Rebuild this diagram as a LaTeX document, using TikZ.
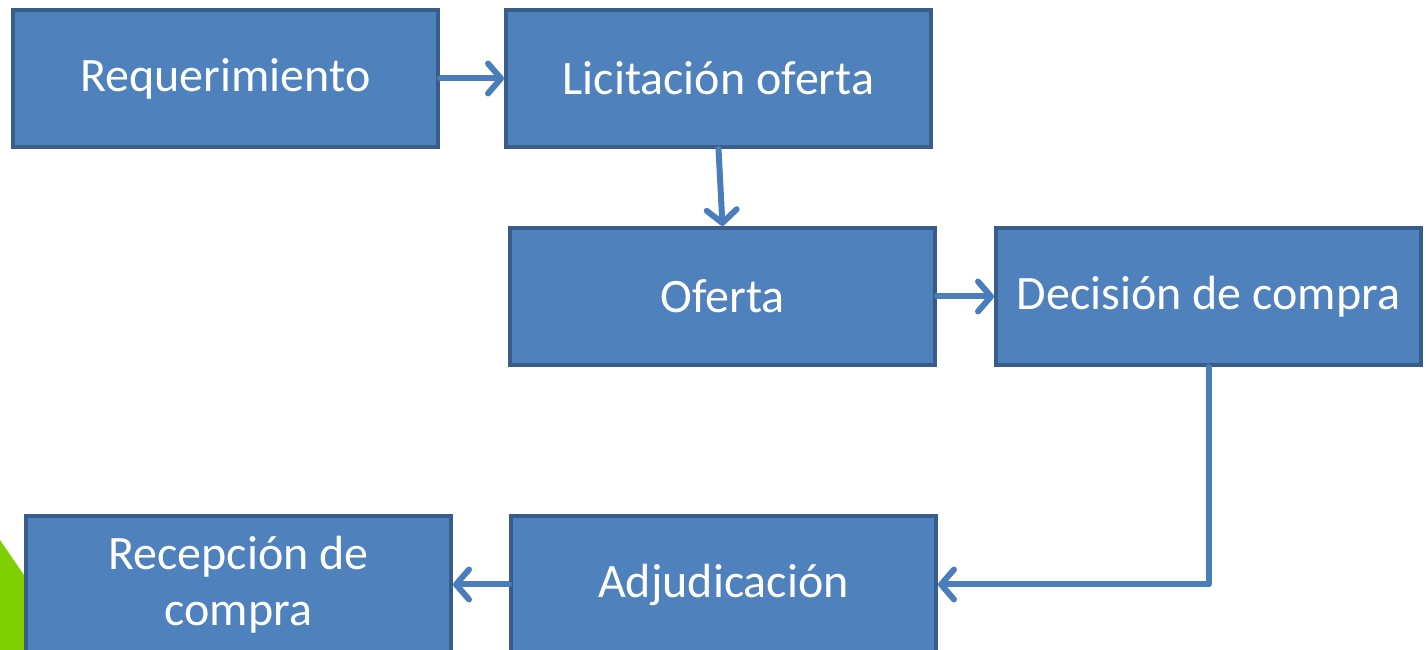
\documentclass[tikz,border=0pt]{standalone}
\usepackage{fontspec}
\setmainfont{Carlito}
\usetikzlibrary{positioning,arrows.meta}
\definecolor{boxfill}{HTML}{4F81BD}
\definecolor{boxline}{HTML}{385D8A}
\definecolor{flowline}{HTML}{4A7EBB}
\definecolor{leafgreen}{HTML}{7FD000}

\begin{document}
\begin{tikzpicture}[x=1pt, y=1pt,
    stage/.style={draw=boxline, fill=boxfill, line width=4pt, minimum width=425pt,
        minimum height=137pt, inner sep=0pt, text=white, align=center,
        font=\fontsize{48}{56}\selectfont},
    flow/.style={draw=flowline, line width=6pt, line cap=round, line join=round,
        -{Straight Barb[length=13pt, width=30pt, line cap=round, line join=round]}}]
    \useasboundingbox (0, 0) rectangle (1426, 650);

    % Green corner behind the last box
    \fill[leafgreen] (0, 0) -- (0, 110) -- (26, 72) -- (26, 0) -- cycle;

    % Top row
    \node[stage] (req) at (225.5, 571.5) {Requerimiento};
    \node[stage] (lic) at (718.5, 571.5) {Licitación oferta};

    % Middle row
    \node[stage] (ofe) at (722.5, 353.5) {Oferta};
    \node[stage] (dec) at (1208.5, 353.5) {Decisión de compra};

    % Bottom row
    \node[stage] (adj) at (723.5, 65.5) {Adjudicación};
    \node[stage] (rec) at (238.5, 65.5) {Recepción de\\compra};

    % Connectors
    \draw[flow] (req.east) -- (lic.west);
    \draw[flow] (lic.south) -- (ofe.north);
    \draw[flow] (ofe.east) -- (dec.west);
    \draw[flow] (dec.south) |- (adj.east);
    \draw[flow] (adj.west) -- (rec.east);
\end{tikzpicture}
\end{document}
